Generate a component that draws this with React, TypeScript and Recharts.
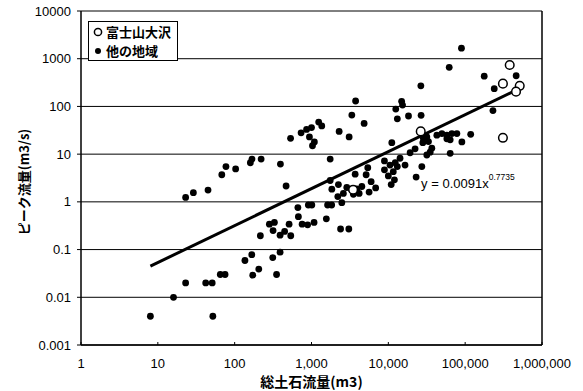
import {
  ScatterChart,
  Scatter,
  XAxis,
  YAxis,
  CartesianGrid,
  ReferenceLine,
  ReferenceDot,
  Legend,
  Label,
} from 'recharts';

const xTicks = [1, 10, 100, 1000, 10000, 100000, 1000000];
const yTicks = [0.001, 0.01, 0.1, 1, 10, 100, 1000, 10000];

// 富士山大沢 (open circles)
const fujiPoints: [number, number][] = [
  [26400, 30],
  [310000, 22],
  [380000, 740],
  [310000, 300],
  [513000, 270],
  [459000, 204],
  [3480, 1.8],
];

// 他の地域 (filled dots)
const otherPoints: [number, number][] = [
  [8, 0.004], [16, 0.01], [23, 0.02], [42, 0.02], [51, 0.02], [52, 0.004],
  [65, 0.03], [75, 0.03], [136, 0.059], [167, 0.078], [172, 0.029], [206, 0.039],
  [313, 0.068], [351, 0.03], [390, 0.088],
  [23, 1.24], [29, 1.56], [45, 1.77], [68, 3.7], [77, 5.5], [103, 4.9],
  [160, 6.6], [168, 7.9], [221, 7.9], [394, 6.2], [467, 2.15],
  [283, 0.34], [329, 0.37], [511, 0.34], [216, 0.195], [316, 0.25], [447, 0.24],
  [390, 0.2], [537, 0.195],
  [534, 21.5], [732, 28], [863, 33], [1000, 36], [940, 23], [1090, 18],
  [1030, 15], [1240, 47], [1360, 39], [2290, 30], [3090, 23], [4840, 44],
  [3750, 130], [3350, 66], [14900, 128], [15300, 107], [12500, 88], [13100, 55],
  [18300, 63], [26700, 65], [11100, 17.4], [1750, 7.9],
  [26500, 270], [62000, 660], [89500, 1660], [177000, 430], [239000, 236],
  [461000, 440], [230000, 82],
  [5400, 5.2], [3700, 3.8], [5140, 3.7], [1750, 2.8], [2240, 2.3], [1840, 1.84],
  [2880, 2.0], [3350, 1.77], [3890, 1.86], [4520, 2.1], [5970, 2.65], [6840, 1.96],
  [5620, 1.6], [2600, 1.5], [3510, 1.44], [4170, 1.5], [2200, 1.29], [2480, 0.96],
  [8900, 7.2], [10500, 5.9], [12300, 6.6], [14200, 8.2], [19200, 10.7], [22300, 12.9],
  [8900, 4.7], [10000, 3.5], [11600, 4.3], [13100, 5.5], [16500, 5.9], [10900, 2.3],
  [12000, 2.9], [27300, 5.5], [31700, 9.6], [23000, 3.3], [28100, 17.4], [31700, 23],
  [665, 0.76], [910, 0.86], [1010, 0.86], [1620, 0.86], [1830, 0.86], [675, 0.49],
  [755, 0.34], [890, 0.33], [1080, 0.37], [1560, 0.44], [2390, 0.27], [3060, 0.27],
  [28600, 21.5], [33300, 18.3], [42800, 25], [49800, 27], [57800, 25], [67100, 27],
  [78000, 27], [90600, 18], [118000, 26], [63800, 20], [57800, 21], [35000, 11],
  [36800, 13.3], [63800, 10.4],
];

// y = 0.0091x^0.7735, ends
const trendPoints: [number, number][] = [
  [8, 0.045],
  [490000, 230],
];

const toRows = (pts: [number, number][]) => pts.map(([x, y]) => ({ x, y }));

const numFont = '"Liberation Sans", Arial, sans-serif';
const jpFont = '"Noto Sans CJK JP", "Noto Sans", sans-serif';

const Dot = (p: any) => <circle cx={p.cx} cy={p.cy} r={3.4} fill="#000" />;
const Ring = (p: any) => (
  <circle cx={p.cx} cy={p.cy} r={4.3} fill="#fff" stroke="#000" strokeWidth={1.5} />
);

function LegendBox() {
  const row = { display: 'flex', alignItems: 'center', height: 19 } as const;
  return (
    <div
      style={{
        border: '1px solid #000',
        background: '#fff',
        padding: '0 6px 0 4px',
        fontFamily: jpFont,
        fontSize: 13,
        fontWeight: 'bold',
        lineHeight: '15px',
        color: '#000',
      }}
    >
      <div style={row}>
        <svg width={13} height={12}>
          <circle cx={5} cy={6} r={3.6} fill="#fff" stroke="#000" strokeWidth={1.5} />
        </svg>
        <span>富士山大沢</span>
      </div>
      <div style={row}>
        <svg width={13} height={12}>
          <circle cx={5} cy={6} r={3} fill="#000" />
        </svg>
        <span>他の地域</span>
      </div>
    </div>
  );
}

export default function App() {
  return (
    <div style={{ position: 'absolute', left: 0, top: 0, background: '#fff' }}>
      <ScatterChart
        width={583}
        height={391}
        margin={{ top: 11, right: 41, bottom: 0, left: 0 }}
      >
        <CartesianGrid horizontal vertical={false} stroke="#000" strokeWidth={1} />
        <XAxis
          type="number"
          dataKey="x"
          scale="log"
          domain={[1, 1000000]}
          ticks={xTicks}
          interval={0}
          allowDataOverflow
          height={46}
          tickSize={-3}
          tickMargin={17}
          axisLine={{ stroke: '#000', strokeWidth: 1.5 }}
          tickLine={{ stroke: '#000' }}
          tick={{ fill: '#000', fontSize: 13, fontFamily: numFont }}
          tickFormatter={(v: number) => v.toLocaleString('en-US')}
        >
          <Label
            value="総土石流量(m3)"
            position="insideBottom"
            offset={4}
            style={{ fontFamily: jpFont, fontSize: 14, fontWeight: 'bold', fill: '#000' }}
          />
        </XAxis>
        <YAxis
          type="number"
          dataKey="y"
          scale="log"
          domain={[0.001, 10000]}
          ticks={yTicks}
          interval={0}
          allowDataOverflow
          width={81}
          tickSize={4}
          tickMargin={6}
          axisLine={{ stroke: '#000', strokeWidth: 1.5 }}
          tickLine={{ stroke: '#000' }}
          tick={{ fill: '#000', fontSize: 13, fontFamily: numFont }}
          tickFormatter={(v: number) => String(v)}
        >
          <Label
            content={() => (
              <text
                transform="translate(23,182) rotate(-90)"
                textAnchor="middle"
                dominantBaseline="central"
                style={{ fontFamily: jpFont, fontSize: 13, fontWeight: 'bold', fill: '#000' }}
              >
                ピーク流量(m3/s)
              </text>
            )}
          />
        </YAxis>
        <ReferenceLine x={1000000} stroke="#000" strokeWidth={1.5} />
        <Legend
          layout="vertical"
          align="center"
          verticalAlign="middle"
          content={() => <LegendBox />}
          wrapperStyle={{ left: 88, top: 21, width: 'auto', height: 'auto' }}
        />
        <Scatter
          name="trend"
          data={toRows(trendPoints)}
          line={{ stroke: '#000', strokeWidth: 3 }}
          shape={() => <g />}
          legendType="none"
          isAnimationActive={false}
        />
        <Scatter
          name="他の地域"
          data={toRows(otherPoints)}
          shape={Dot}
          isAnimationActive={false}
        />
        <Scatter
          name="富士山大沢"
          data={toRows(fujiPoints)}
          shape={Ring}
          isAnimationActive={false}
        />
        <ReferenceDot
          x={26700}
          y={1.96}
          r={0}
          shape={(p: any) => (
            <text
              x={p.cx}
              y={p.cy}
              style={{ fontFamily: numFont, fontSize: 13, fill: '#000' }}
            >
              y = 0.0091x
              <tspan dy={-8} style={{ fontSize: 8.5 }}>
                0.7735
              </tspan>
            </text>
          )}
        />
      </ScatterChart>
    </div>
  );
}
